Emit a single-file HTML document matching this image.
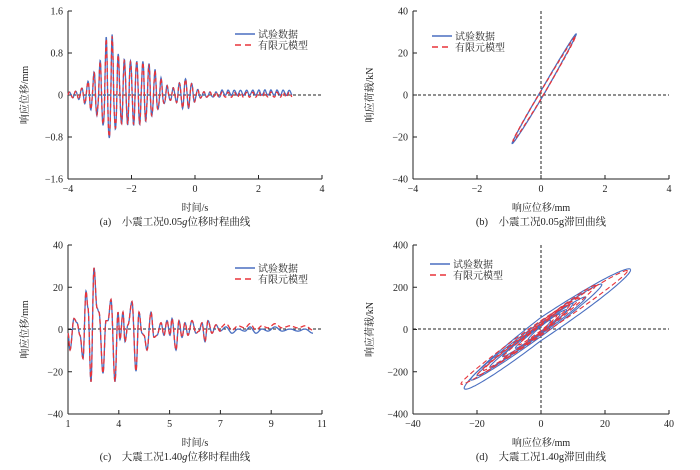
<!DOCTYPE html>
<html><head><meta charset="utf-8"><style>
body{margin:0;background:#fff;width:700px;height:465px;overflow:hidden}
svg{font-family:"Liberation Serif","Noto Serif CJK SC",serif}
.t{font-size:10px;fill:#222}
.c{font-size:10.5px;fill:#222}
</style></head><body>
<svg id="s" width="700" height="465" xmlns="http://www.w3.org/2000/svg"></svg>
<script>
const S=document.getElementById('s');let h='';
function ax(x0,x1,y0,y1,xl,yl,xt,yt,xz,yz,cap,cx,cy){
 h+=`<line x1="${x0}" y1="${y0}" x2="${x0}" y2="${y1}" stroke="#222" stroke-width="1"/>`;
 h+=`<line x1="${x0}" y1="${y1}" x2="${x1}" y2="${y1}" stroke="#222" stroke-width="1"/>`;
 xl.forEach((l,i)=>{let x=x0+(x1-x0)*i/(xl.length-1);h+=`<line x1="${x}" y1="${y1}" x2="${x}" y2="${y1-4}" stroke="#222"/><text class="t" x="${x}" y="${y1+13}" text-anchor="middle">${l}</text>`});
 yl.forEach((l,i)=>{let y=y1-(y1-y0)*i/(yl.length-1);h+=`<line x1="${x0}" y1="${y}" x2="${x0+4}" y2="${y}" stroke="#222"/><text class="t" x="${x0-5}" y="${y+3.5}" text-anchor="end">${l}</text>`});
 h+=`<line x1="${x0}" y1="${yz}" x2="${x1}" y2="${yz}" stroke="#222" stroke-dasharray="3,2"/>`;
 if(xz)h+=`<line x1="${xz}" y1="${y0}" x2="${xz}" y2="${y1}" stroke="#222" stroke-dasharray="3,2"/>`;
 h+=`<text class="t" x="${(x0+x1)/2}" y="${y1+32}" text-anchor="middle" font-size="11">${xt}</text>`;
 let ym=(y0+y1)/2;h+=`<text class="t" transform="translate(${x0-40},${ym}) rotate(-90)" text-anchor="middle" font-size="11">${yt}</text>`;
 h+=`<text class="c" x="${cx}" y="${cy}" text-anchor="middle">${cap}</text>`;
}
function leg(x,y){h+=`<line x1="${x}" y1="${y}" x2="${x+20}" y2="${y}" stroke="#4a6fc0" stroke-width="1.5"/><text class="t" x="${x+23}" y="${y+4}" font-size="11">试验数据</text>`;
 h+=`<line x1="${x}" y1="${y+11}" x2="${x+20}" y2="${y+11}" stroke="#e8343a" stroke-width="1.5" stroke-dasharray="6,4"/><text class="t" x="${x+23}" y="${y+15}" font-size="11">有限元模型</text>`;}
function pth(pts,col,dash,w){h+=`<path d="M${pts.map(p=>p[0].toFixed(1)+','+p[1].toFixed(1)).join('L')}" fill="none" stroke="${col}" stroke-width="${w||1.3}" ${dash?'stroke-dasharray="'+dash+'"':''}/>`;}
ax(68,322,11,179,['−4','−2','0','2','4'],['−1.6','−0.8','0','0.8','1.6'],'时间/s','响应位移/mm',0,95,'(a)　小震工况0.05<tspan font-style="italic">g</tspan>位移时程曲线',175,225);
leg(235,34);
function envA(t){return 0.58*Math.exp(-Math.pow((t+2.2)/1.15,4))+0.45*Math.exp(-Math.pow((t+2.7)/0.2,2))+0.25*Math.exp(-Math.pow((t+0.3)/0.3,2))+0.05;}
let A1=[],A2=[];
for(let t=-4;t<=3.05;t+=0.01){let s=Math.sin(2*Math.PI*5.2*(t+4));let v=envA(t)*s*(s>0?1.1:0.85)+0.08*envA(t)*Math.sin(2*Math.PI*11*t);
 let X=68+(t+4)/8*254;A1.push([X,95-v*52.5-(t>0.8?2:0)]);A2.push([X,95-v*0.97*52.5]);}
pth(A1,'#4a6fc0');pth(A2,'#e8343a','4,3');
ax(413,669,11,179,['−4','−2','0','2','4'],['−40','−20','0','20','40'],'响应位移/mm','响应荷载/kN',541,95,'(b)　小震工况0.05g滞回曲线',541,225);
leg(432,36);
{let P=[],Q=[];for(let a=0;a<=6.3;a+=0.04){let c=Math.cos(a);let x=c>0?c*1.1:c*0.9;let y=(c>0?c*29:c*23)+2*Math.sin(a);P.push([541+x*32,95-y*2.1]);Q.push([541+x*0.97*32,95-(y*0.95)*2.1]);}
pth(P,'#4a6fc0');pth(Q,'#e8343a','4,3');}
ax(68,322,245,414,['1','4','5','7','9','11'],['−40','−20','0','20','40'],'时间/s','响应位移/mm',0,329,'(c)　大震工况1.40<tspan font-style="italic">g</tspan>位移时程曲线',175,460);
leg(235,268);
const kc=[[68,-2],[70,-10],[74,5],[77,3],[80,-3],[83,-14],[86,18],[88,10],[91,-25],[94,29],[97,10],[99,8],[103,-21],[106,4],[108,4],[111,14],[115,-25],[118,8],[120,-5],[123,8],[125,-6],[128,2],[132,13],[136,-20],[139,8],[142,-2],[144,-3],[147,-10],[151,8],[154,-4],[157,-3],[161,3],[164,-3],[167,4],[170,-3],[172,5],[176,-10],[179,4],[182,-4],[185,3],[188,-3],[192,4],[196,-2],[199,-1],[202,3],[205,-6],[208,4],[212,-2],[216,2],[220,-1],[226,1],[232,-2],[238,0],[245,-1],[250,1],[256,-2],[262,0],[268,-1],[275,1],[282,-1],[290,0],[298,-1],[305,0],[313,-2]];
let C1=[],C2=[];
for(let i=0;i<kc.length-1;i++){let [xa,ya]=kc[i],[xb,yb]=kc[i+1];for(let s=0;s<1;s+=0.1){let u=(1-Math.cos(Math.PI*s))/2;let x=xa+(xb-xa)*s,y=ya+(yb-ya)*u;C1.push([x,329-y*2.11]);C2.push([x,329-(y+(x>220?1.5:0))*2.11]);}}
pth(C1,'#4a6fc0');pth(C2,'#e8343a','5,3');
ax(413,669,245,414,['−40','−20','0','20','40'],['−400','−200','0','200','400'],'响应位移/mm','响应荷载/kN',541,329,'(d)　大震工况1.40g滞回曲线',541,460);
leg(430,264);
function loop(xa,xb,ya,yb,w,col,d,sh){let P=[];for(let a=0;a<=6.3;a+=0.04){let c=Math.cos(a),s=Math.sin(a);let x=c>0?c*xb:c*xa;let y=(c>0?c*yb:c*ya)+w*s+(sh||0);P.push([541+x*3.2,329-y*0.211]);}pth(P,col,d,1.1);}
loop(24,28,280,280,55,'#4a6fc0');loop(22,19,240,210,35,'#4a6fc0');loop(20,14,220,150,25,'#4a6fc0');loop(16,10,180,120,22,'#4a6fc0');loop(12,8,130,90,18,'#4a6fc0');loop(8,6,90,70,15,'#4a6fc0');loop(4,3,50,40,12,'#4a6fc0');
loop(25,27,265,270,35,'#e8343a','5,3',5);loop(20,17,225,200,28,'#e8343a','5,3',5);loop(18,12,200,140,22,'#e8343a','5,3',5);loop(12,9,140,110,18,'#e8343a','5,3',5);loop(7,5,80,60,12,'#e8343a','5,3',5);
S.innerHTML=h;
</script>
</body></html>
